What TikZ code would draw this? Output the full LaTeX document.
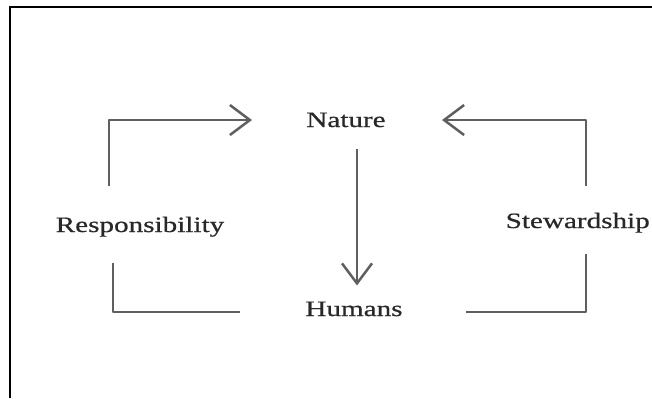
\documentclass[tikz,border=0pt]{standalone}
\usepackage{fontspec}
\setmainfont{Liberation Serif}[FakeStretch=1.33,FakeBold=0.6]
\usetikzlibrary{arrows.meta}
\definecolor{linegray}{RGB}{95,95,95}
\definecolor{textgray}{RGB}{40,40,40}
\tikzset{>={Straight Barb[length=20bp,width=30bp]}}
\tikzset{
    label/.style={inner sep=0pt,anchor=base,text=textgray,font=\fontsize{22}{26}\selectfont},
    link/.style={draw=linegray,line width=2.5bp,line join=round}
}

\begin{document}
\begin{tikzpicture}[x=1bp,y=-1bp]
            \useasboundingbox (0,0) rectangle (652,398);
            \draw[line width=2bp] (10,398) -- (10,7) -- (652,7);
            \node[label] (nature) at (346,127) {Nature};
            \node[label] (humans) at (354,316) {Humans};
            \node[label] (resp)   at (140,232) {Responsibility};
            \node[label,anchor=base east] (stew) at (650,228) {Stewardship};
            \coordinate (a) at (109,186);
            \coordinate (b) at (252,120);
            \coordinate (c) at (586,186);
            \coordinate (d) at (442,120);
            \coordinate (e) at (113,263);
            \coordinate (f) at (240,312);
            \coordinate (g) at (466,312);
            \coordinate (h) at (586,254);
            \draw[link,->] (a) |- (b);
            \draw[link,->] (c) |- (d);
            \draw[link] (e) |- (f);
            \draw[link] (g) -| (h);
            \draw[link,->,shorten <=22bp,shorten >=16bp] (nature.south -| 357,0) -- (humans.north -| 357,0);
        \end{tikzpicture}
\end{document}
